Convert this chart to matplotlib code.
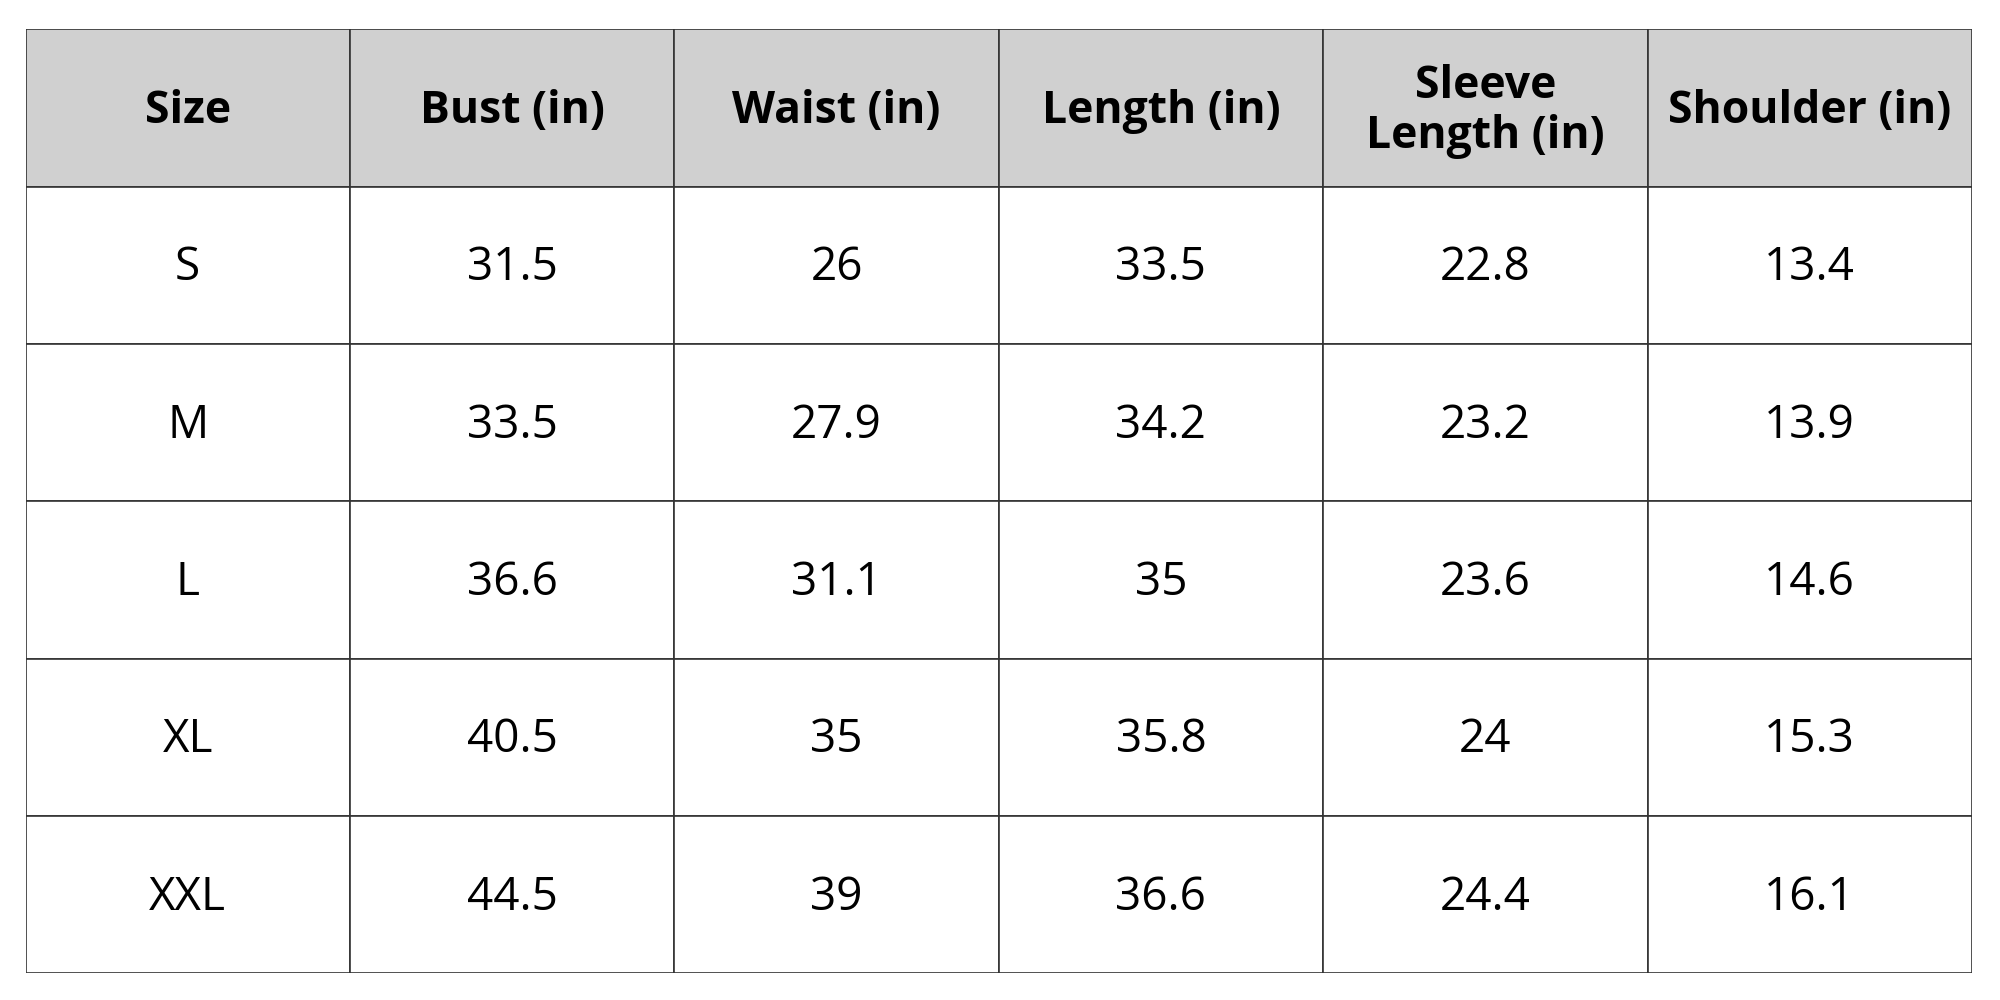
import matplotlib
matplotlib.use("Agg")
import matplotlib.pyplot as plt
from matplotlib.patches import Rectangle

columns = ["Size", "Bust (in)", "Waist (in)", "Length (in)", "Sleeve\nLength (in)", "Shoulder (in)"]
sizes = ["S", "M", "L", "XL", "XXL"]
bust = ["31.5", "33.5", "36.6", "40.5", "44.5"]
waist = ["26", "27.9", "31.1", "35", "39"]
length = ["33.5", "34.2", "35", "35.8", "36.6"]
sleeve = ["22.8", "23.2", "23.6", "24", "24.4"]
shoulder = ["13.4", "13.9", "14.6", "15.3", "16.1"]

rows = list(zip(sizes, bust, waist, length, sleeve, shoulder))

fig = plt.figure(figsize=(20, 10), dpi=100)
ax = fig.add_axes([20/1568, 1-763/784, (1546-20)/1568, (763-23)/784])
ncol, nrow = len(columns), len(rows) + 1
ax.set_xlim(0, ncol); ax.set_ylim(nrow, 0); ax.axis("off")

fam = ["Open Sans", "DejaVu Sans"]
for j, c in enumerate(columns):
    ax.add_patch(Rectangle((j, 0), 1, 1, facecolor="#d0d0d0", edgecolor="#333333", lw=1.2))
    ax.text(j + 0.5, 0.52, c, ha="center", va="center", fontsize=32, fontweight="bold",
            family=fam, linespacing=1.15)
for i, r in enumerate(rows):
    for j, v in enumerate(r):
        ax.add_patch(Rectangle((j, i + 1), 1, 1, facecolor="white", edgecolor="#333333", lw=1.2))
        ax.text(j + 0.5, i + 1.52, v, ha="center", va="center", fontsize=33, family=fam)

fig.savefig("out.png", dpi=100, facecolor="white")
